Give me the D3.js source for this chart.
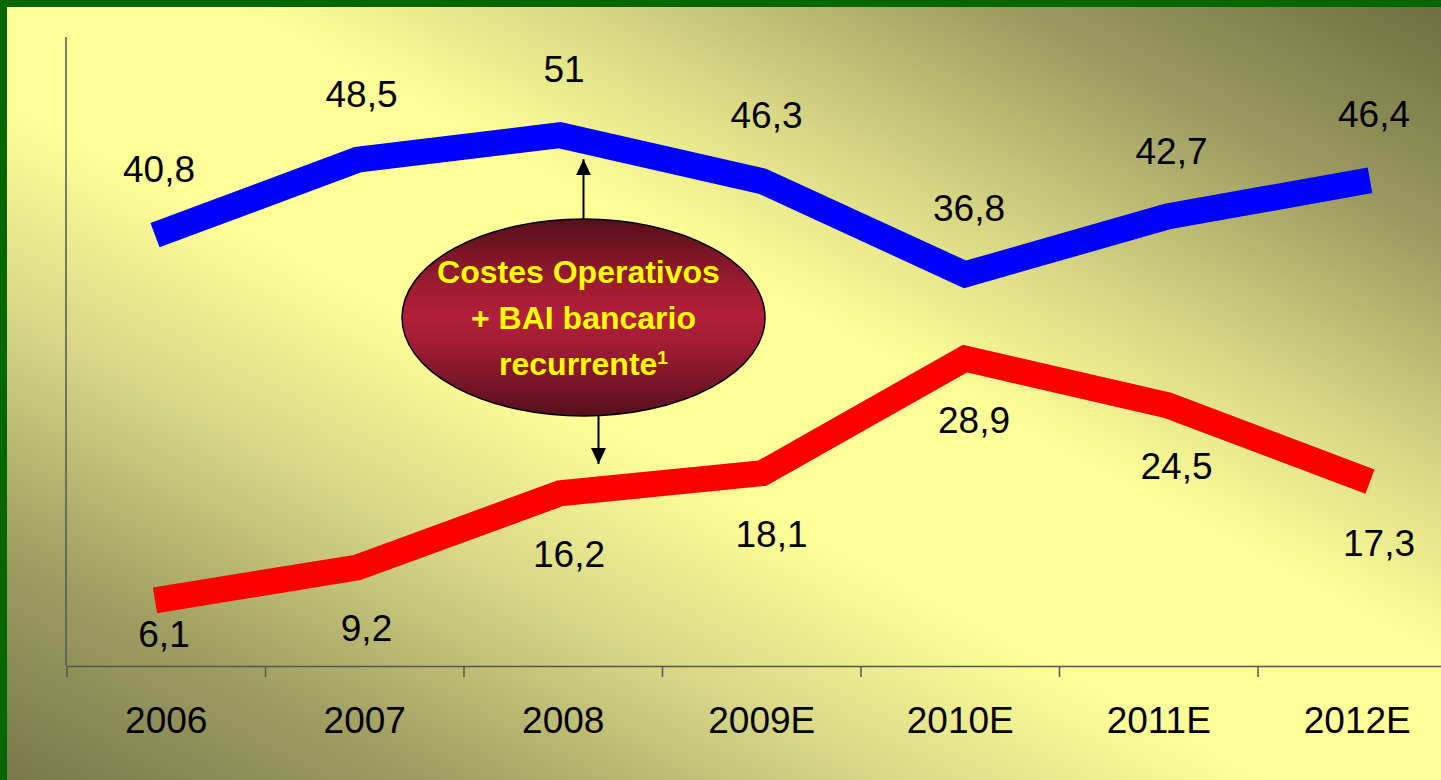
<!DOCTYPE html>
<html lang="es">
<head>
    <meta charset="UTF-8">
    <title>Costes Operativos + BAI bancario recurrente</title>
    <script src="https://d3js.org/d3.v7.min.js"></script>
    <style>
        body { margin: 0; background: #006600; }
        svg { display: block; font-family: "Liberation Sans", Arial, sans-serif; }
        .axis-line { stroke: #555; stroke-width: 1.5; }
        .value-label { font-size: 37px; fill: #000; text-anchor: middle; }
        .year-label { font-size: 37px; fill: #000; text-anchor: middle; }
        .bubble-text { font-size: 32px; font-weight: bold; fill: #ffff00; text-anchor: middle; }
    </style>
</head>
<body>
    <div id="chart"></div>

    <script>
        // data
        const years = ["2006", "2007", "2008", "2009E", "2010E", "2011E", "2012E"];
        const costes = [40.8, 48.5, 51, 46.3, 36.8, 42.7, 46.4];
        const bai = [6.1, 9.2, 16.2, 18.1, 28.9, 24.5, 17.3];
        const bubbleLines = ["Costes Operativos", "+ BAI bancario", "recurrente"];

        const width = 1441;
        const height = 780;
        const border = 7;

        const svg = d3.select("#chart")
            .append("svg")
            .attr("width", width)
            .attr("height", height);

        const defs = svg.append("defs");

        // slide background: light along the main diagonal, darker to the corners
        const bg = defs.append("linearGradient")
            .attr("id", "bg-grad")
            .attr("x1", 1).attr("y1", 0)
            .attr("x2", 0).attr("y2", 1);
        [[0, "#6f6f3f"], [0.15, "#9a9a60"], [0.3, "#d6d684"], [0.42, "#ffff99"],
         [0.56, "#ffff99"], [0.7, "#d6d686"], [0.85, "#9e9e62"], [1, "#78784a"]]
            .forEach(([o, c]) => bg.append("stop").attr("offset", o).attr("stop-color", c));

        const eg = defs.append("linearGradient")
            .attr("id", "bubble-grad")
            .attr("x1", 0).attr("y1", 0)
            .attr("x2", 0).attr("y2", 1);
        [[0, "#551019"], [0.35, "#a01c33"], [0.5, "#b21f3a"], [0.65, "#a01c33"], [1, "#55101d"]]
            .forEach(([o, c]) => eg.append("stop").attr("offset", o).attr("stop-color", c));

        defs.append("marker")
            .attr("id", "arrow")
            .attr("viewBox", "0 0 16 15")
            .attr("refX", 16).attr("refY", 7.5)
            .attr("markerWidth", 16).attr("markerHeight", 15)
            .attr("markerUnits", "userSpaceOnUse")
            .attr("orient", "auto")
            .append("path")
            .attr("d", "M0,0 L16,7.5 L0,15 Z")
            .attr("fill", "#000");

        svg.append("rect")
            .attr("width", width)
            .attr("height", height)
            .attr("fill", "#006600");

        svg.append("rect")
            .attr("x", border).attr("y", border)
            .attr("width", width - border)
            .attr("height", height - border)
            .attr("fill", "url(#bg-grad)");

        // scales
        const x = d3.scaleBand()
            .domain(years)
            .range([67, 67 + 198.5 * years.length]);

        const xLine = d3.scalePoint()
            .domain(years)
            .range([155, 1370]);

        const yRed = d3.scaleLinear()
            .domain([0, 60])
            .range([665, 29]);

        // blue series sits on its own (hidden) secondary scale
        const yBlue = d3.scaleLinear()
            .domain([0, 60])
            .range([635, 47]);

        // axes
        svg.append("line")
            .attr("class", "axis-line")
            .attr("x1", 66).attr("x2", 66)
            .attr("y1", 37).attr("y2", 666);

        const xAxis = svg.append("g")
            .attr("transform", "translate(0,666)")
            .call(d3.axisBottom(x).tickSize(0).tickFormat(""));
        xAxis.select(".domain").attr("stroke", "#555").attr("stroke-width", 1.5);
        xAxis.selectAll(".tick").remove();

        const tickPos = years.map(d => x(d)).concat([x.range()[1]]);
        svg.selectAll(".x-tick")
            .data(tickPos)
            .join("line")
            .attr("class", "axis-line")
            .attr("x1", d => d).attr("x2", d => d)
            .attr("y1", 666).attr("y2", 677);

        svg.selectAll(".year-label")
            .data(years)
            .join("text")
            .attr("class", "year-label")
            .attr("x", d => x(d) + x.bandwidth() / 2)
            .attr("y", 733)
            .text(d => d);

        // lines
        const blueLine = d3.line()
            .x((d, i) => xLine(years[i]))
            .y(d => yBlue(d));

        const redLine = d3.line()
            .x((d, i) => xLine(years[i]))
            .y(d => yRed(d));

        svg.append("path")
            .datum(costes)
            .attr("d", blueLine)
            .attr("fill", "none")
            .attr("stroke", "#0000ff")
            .attr("stroke-width", 26)
            .attr("stroke-linejoin", "miter");

        svg.append("path")
            .datum(bai)
            .attr("d", redLine)
            .attr("fill", "none")
            .attr("stroke", "#ff0000")
            .attr("stroke-width", 26)
            .attr("stroke-linejoin", "miter");

        const fmt = v => String(v).replace(".", ",");

        svg.selectAll(".blue-label")
            .data(costes)
            .join("text")
            .attr("class", "value-label")
            .attr("x", (d, i) => xLine(years[i]) + 4)
            .attr("y", d => yBlue(d) - 53)
            .text(fmt);

        // labels below the red line, kept clear of the category axis
        svg.selectAll(".red-label")
            .data(bai)
            .join("text")
            .attr("class", "value-label")
            .attr("x", (d, i) => xLine(years[i]) + 9)
            .attr("y", d => Math.min(yRed(d) + 74, yRed(0) - 18))
            .text(fmt);

        // callout bubble
        const cx = 583.5, cy = 317.5, rx = 181.5, ry = 98.5;

        svg.append("line")
            .attr("x1", cx).attr("x2", cx)
            .attr("y1", cy - ry).attr("y2", yBlue(costes[2]) + 24)
            .attr("stroke", "#000").attr("stroke-width", 2)
            .attr("marker-end", "url(#arrow)");

        svg.append("line")
            .attr("x1", cx + 15).attr("x2", cx + 15)
            .attr("y1", cy + ry).attr("y2", 464)
            .attr("stroke", "#000").attr("stroke-width", 2)
            .attr("marker-end", "url(#arrow)");

        svg.append("ellipse")
            .attr("cx", cx).attr("cy", cy)
            .attr("rx", rx).attr("ry", ry)
            .attr("fill", "url(#bubble-grad)")
            .attr("stroke", "#000")
            .attr("stroke-width", 1.5);

        const bubble = svg.selectAll(".bubble-text")
            .data(bubbleLines)
            .join("text")
            .attr("class", "bubble-text")
            .attr("x", (d, i) => i === 0 ? cx - 5 : cx)
            .attr("y", (d, i) => 283 + i * 46)
            .text(d => d);

        bubble.filter((d, i) => i === 2)
            .append("tspan")
            .attr("font-size", 19)
            .attr("dy", -11)
            .text("1");
    </script>
</body>
</html>
